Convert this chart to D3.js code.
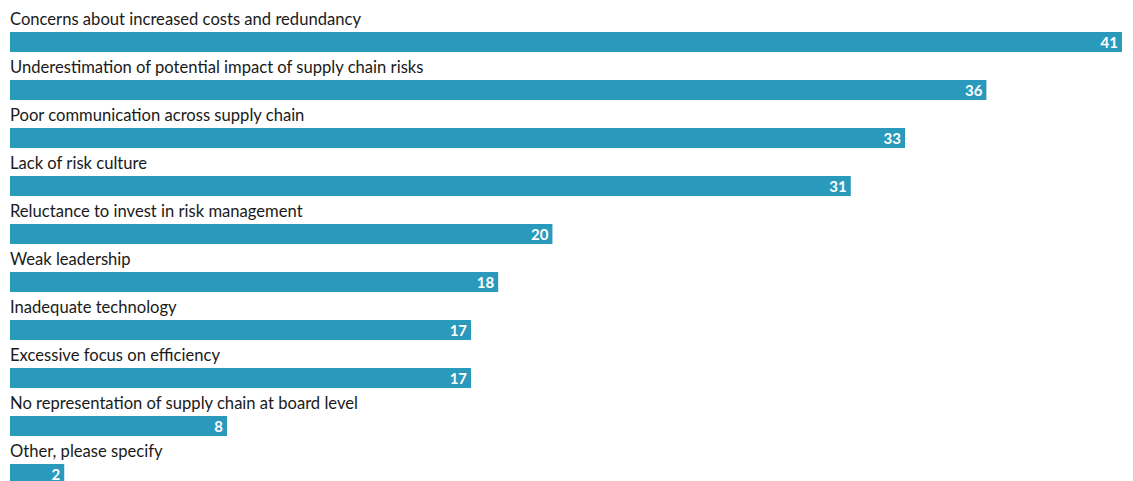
<!DOCTYPE html>
<html><head><meta charset="utf-8">
<script src="https://cdn.jsdelivr.net/npm/d3@7"></script>
<style>body{margin:0;background:#fff}svg{display:block}</style>
</head><body>
<svg id="c" width="1133" height="481"></svg>
<script>
const categories = ["Concerns about increased costs and redundancy","Underestimation of potential impact of supply chain risks","Poor communication across supply chain","Lack of risk culture","Reluctance to invest in risk management","Weak leadership","Inadequate technology","Excessive focus on efficiency","No representation of supply chain at board level","Other, please specify"];
const values = [41,36,33,31,20,18,17,17,8,2];

const svg = d3.select("#c");
const x = d3.scaleLinear().domain([0,41]).range([10,1122]);
const y = d3.scaleBand().domain(categories).range([0,480]).padding(0);
const g = svg.selectAll("g.row").data(categories).join("g").attr("class","row")
  .attr("transform", d => `translate(0,${y(d)})`);
g.append("text").attr("x",10).attr("y",25).attr("fill","#1a1a1a")
  .style("font-family","Lato, 'Open Sans', sans-serif").style("font-size","16.6px").text(d=>d);
g.append("rect").attr("x",x(0)).attr("y",32).attr("height",20)
  .attr("width",(d,i)=>x(values[i])-x(0)).attr("fill","#2a9abc");
g.append("text").attr("x",(d,i)=>x(values[i])-4).attr("y",47.5).attr("text-anchor","end")
  .attr("fill","#fff").style("font-family","Lato, sans-serif").style("font-weight","bold").style("font-size","15px")
  .text((d,i)=>values[i]);
</script></body></html>
